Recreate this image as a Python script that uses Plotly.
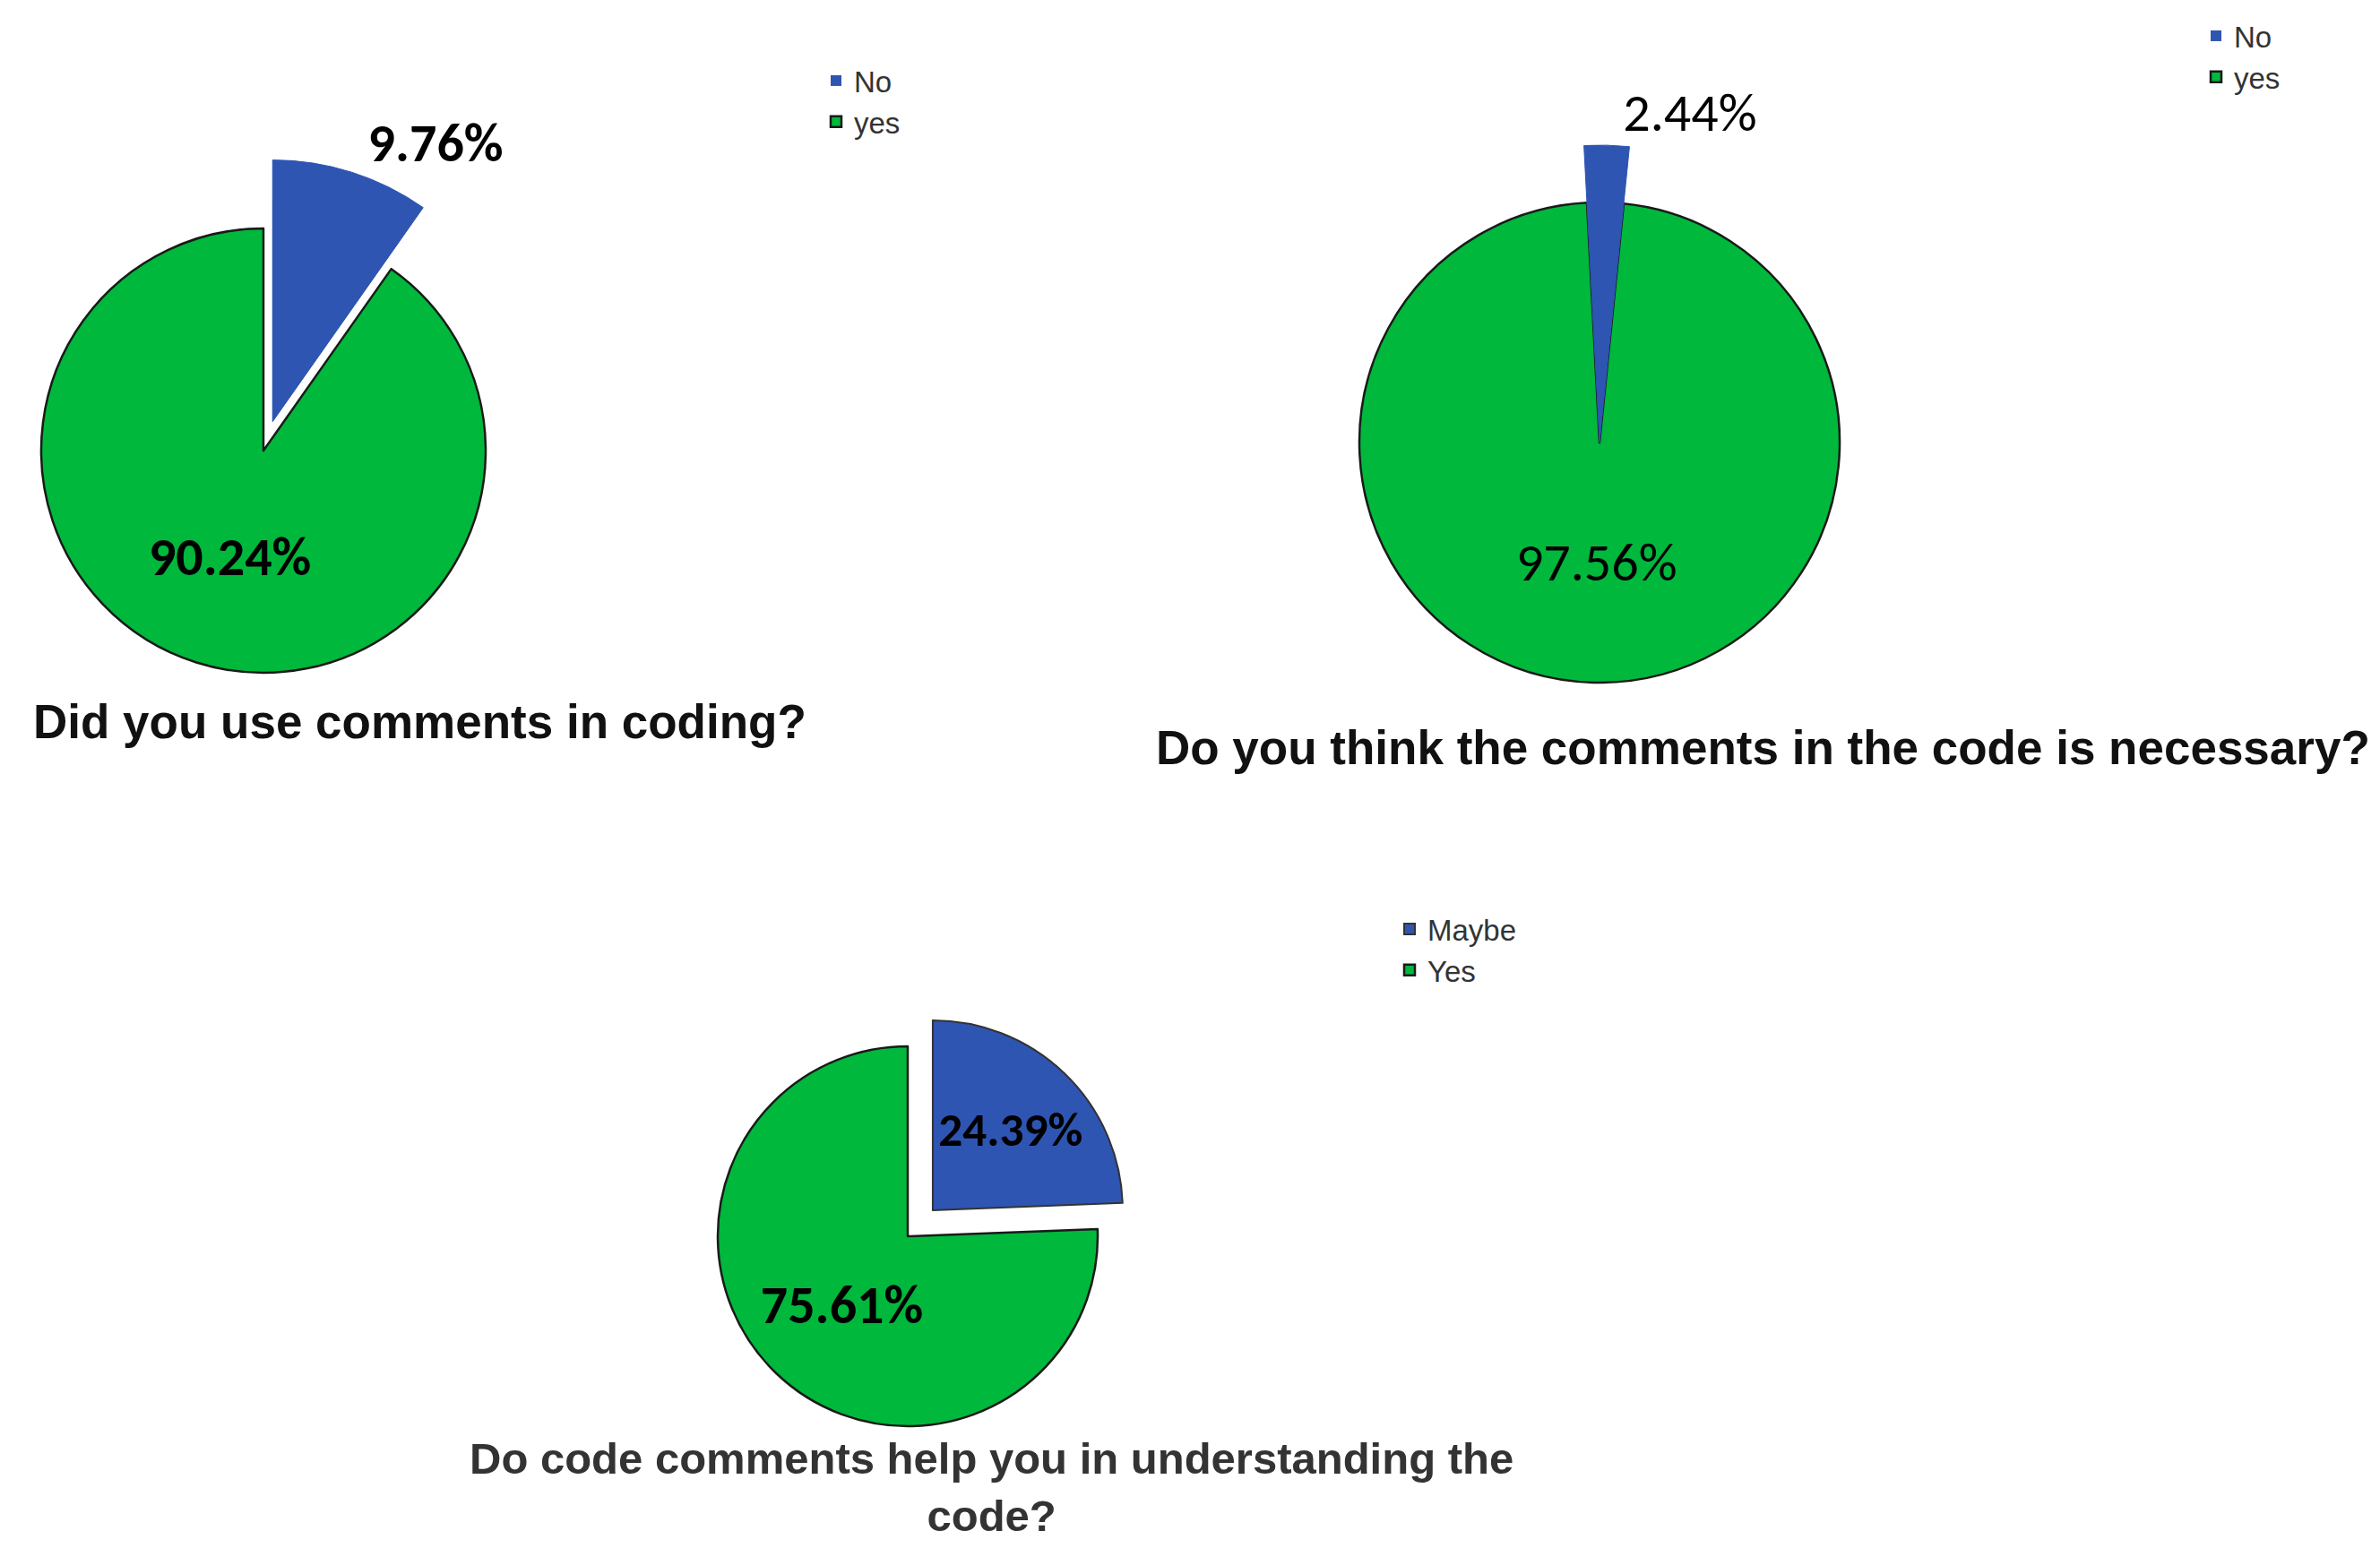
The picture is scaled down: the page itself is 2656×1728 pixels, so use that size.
import math
import plotly.graph_objects as go

W, H = 2656, 1728

# survey answers, n = 41 respondents per question
labels_q1 = ["No", "yes"]
counts_q1 = [4, 37]
labels_q2 = ["No", "yes"]
counts_q2 = [1, 40]
labels_q3 = ["Maybe", "Yes"]
counts_q3 = [10, 31]

titles = [
    "Did you use comments in coding?",
    "Do you think the comments in the code is necessary?",
    "Do code comments help you in understanding the<br>code?",
]

BLUE = "#2E55B2"
GREEN = "#00B83C"
CLEAR = "rgba(0,0,0,0)"
LINE = "#1a1a1a"
NUM_FONT = "Carlito, Liberation Sans Narrow, DejaVu Sans Condensed, sans-serif"


def dom(cx, cy, half):
    # pixel centre / half size -> paper domain
    return dict(x=[(cx - half) / W, (cx + half) / W],
                y=[1 - (cy + half) / H, 1 - (cy - half) / H])


fig = go.Figure()

# ---- pie 1 : green body + bigger exploded blue wedge on top
cx, cy, r, R, shift = 286, 495, 248, 292, 34
pb = shift / r
# the big wedge is drawn as its own pie, moved along the wedge's mid angle
mid = math.radians(360 * counts_q1[0] / sum(counts_q1) / 2)
ox, oy = cx + shift * math.sin(mid), cy - shift * math.cos(mid)
fig.add_trace(go.Pie(
    labels=labels_q1, values=counts_q1, sort=False, direction="clockwise", rotation=0,
    domain=dom(cx, cy, r * (1 + pb)), pull=[pb, 0],
    marker=dict(colors=[BLUE, GREEN], line=dict(color=[CLEAR, LINE], width=[0, 2.5])),
    texttemplate=["", "<b>%{percent:.2%}</b>"], textposition=["none", "inside"],
    insidetextorientation="horizontal",
    textfont=dict(family=NUM_FONT, size=60, color="black"),
    legend="legend", legendgroup="q1", showlegend=True, hoverinfo="label+percent",
))
fig.add_trace(go.Pie(
    labels=labels_q1, values=counts_q1, sort=False, direction="clockwise", rotation=0,
    domain=dom(ox, oy, R),
    marker=dict(colors=[BLUE, CLEAR], line=dict(color=[BLUE, CLEAR], width=[1, 0])),
    texttemplate=["<b>%{percent:.2%}</b>", ""], textposition=["outside", "none"],
    textfont=dict(family=NUM_FONT, size=60, color="black"),
    legendgroup="q1", showlegend=False, hoverinfo="skip",
))

# ---- pie 2 : blue sliver sticks out past the circle
cx, cy, r, R = 1777, 486, 268, 332
fig.add_trace(go.Pie(
    labels=labels_q2, values=counts_q2, sort=False, direction="clockwise", rotation=-3,
    domain=dom(cx, cy, r),
    marker=dict(colors=[BLUE, GREEN], line=dict(color=[BLUE, LINE], width=[0, 2.5])),
    texttemplate=["", "%{percent:.2%}"], textposition=["none", "inside"],
    insidetextorientation="horizontal",
    textfont=dict(family=NUM_FONT, size=60, color="black"),
    legend="legend2", legendgroup="q2", showlegend=True, hoverinfo="label+percent",
))
fig.add_trace(go.Pie(
    labels=labels_q2, values=counts_q2, sort=False, direction="clockwise", rotation=-3,
    domain=dom(cx, cy, R),
    marker=dict(colors=[BLUE, CLEAR], line=dict(color=[BLUE, CLEAR], width=[1, 0])),
    texttemplate=["%{percent:.2%}", ""], textposition=["outside", "none"],
    textfont=dict(family=NUM_FONT, size=60, color="black"),
    legendgroup="q2", showlegend=False, hoverinfo="skip",
))

# ---- pie 3
cx, cy, r, p = 1005, 1372, 212, 0.19
fig.add_trace(go.Pie(
    labels=labels_q3, values=counts_q3, sort=False, direction="clockwise", rotation=0,
    domain=dom(cx, cy, r * (1 + p)), pull=[p, 0],
    marker=dict(colors=[BLUE, GREEN], line=dict(color=["#333333", LINE], width=[2, 2.5])),
    texttemplate="<b>%{percent:.2%}</b>", textposition="inside",
    insidetextorientation="horizontal",
    textfont=dict(family=NUM_FONT, size=60, color="black"),
    legend="legend3", legendgroup="q3", showlegend=True, hoverinfo="label+percent",
))

leg = dict(font=dict(family="Liberation Sans, Arial, sans-serif", size=33, color="#333333"),
           bgcolor="rgba(0,0,0,0)", xanchor="left", yanchor="top",
           itemclick=False, itemdoubleclick=False)

ann_font = dict(family="Liberation Sans, Arial, sans-serif", size=53, color="#111111")
annotations = [
    dict(text="<b>" + titles[0] + "</b>", x=27 / W, y=1 - 797 / H, xanchor="left", yanchor="middle",
         xref="paper", yref="paper", showarrow=False, font=ann_font),
    dict(text="<b>" + titles[1] + "</b>", x=1280 / W, y=1 - 826 / H, xanchor="left", yanchor="middle",
         xref="paper", yref="paper", showarrow=False, font=ann_font),
    dict(text="<b>" + titles[2].replace("<br>", "</b><br><b>") + "</b>", x=1098 / W, y=1 - 1652 / H,
         xanchor="center", yanchor="middle", xref="paper", yref="paper", showarrow=False,
         font=dict(family="Liberation Sans, Arial, sans-serif", size=49, color="#333333")),
]

fig.update_layout(
    width=W, height=H,
    margin=dict(l=0, r=0, t=0, b=0),
    paper_bgcolor="white", plot_bgcolor="white",
    legend=dict(x=905 / W, y=1 - 54 / H, **leg),
    legend2=dict(x=2445 / W, y=1 - 4 / H, **leg),
    legend3=dict(x=1545 / W, y=1 - 1001 / H, **leg),
    annotations=annotations,
)

fig.write_html("out.html")
